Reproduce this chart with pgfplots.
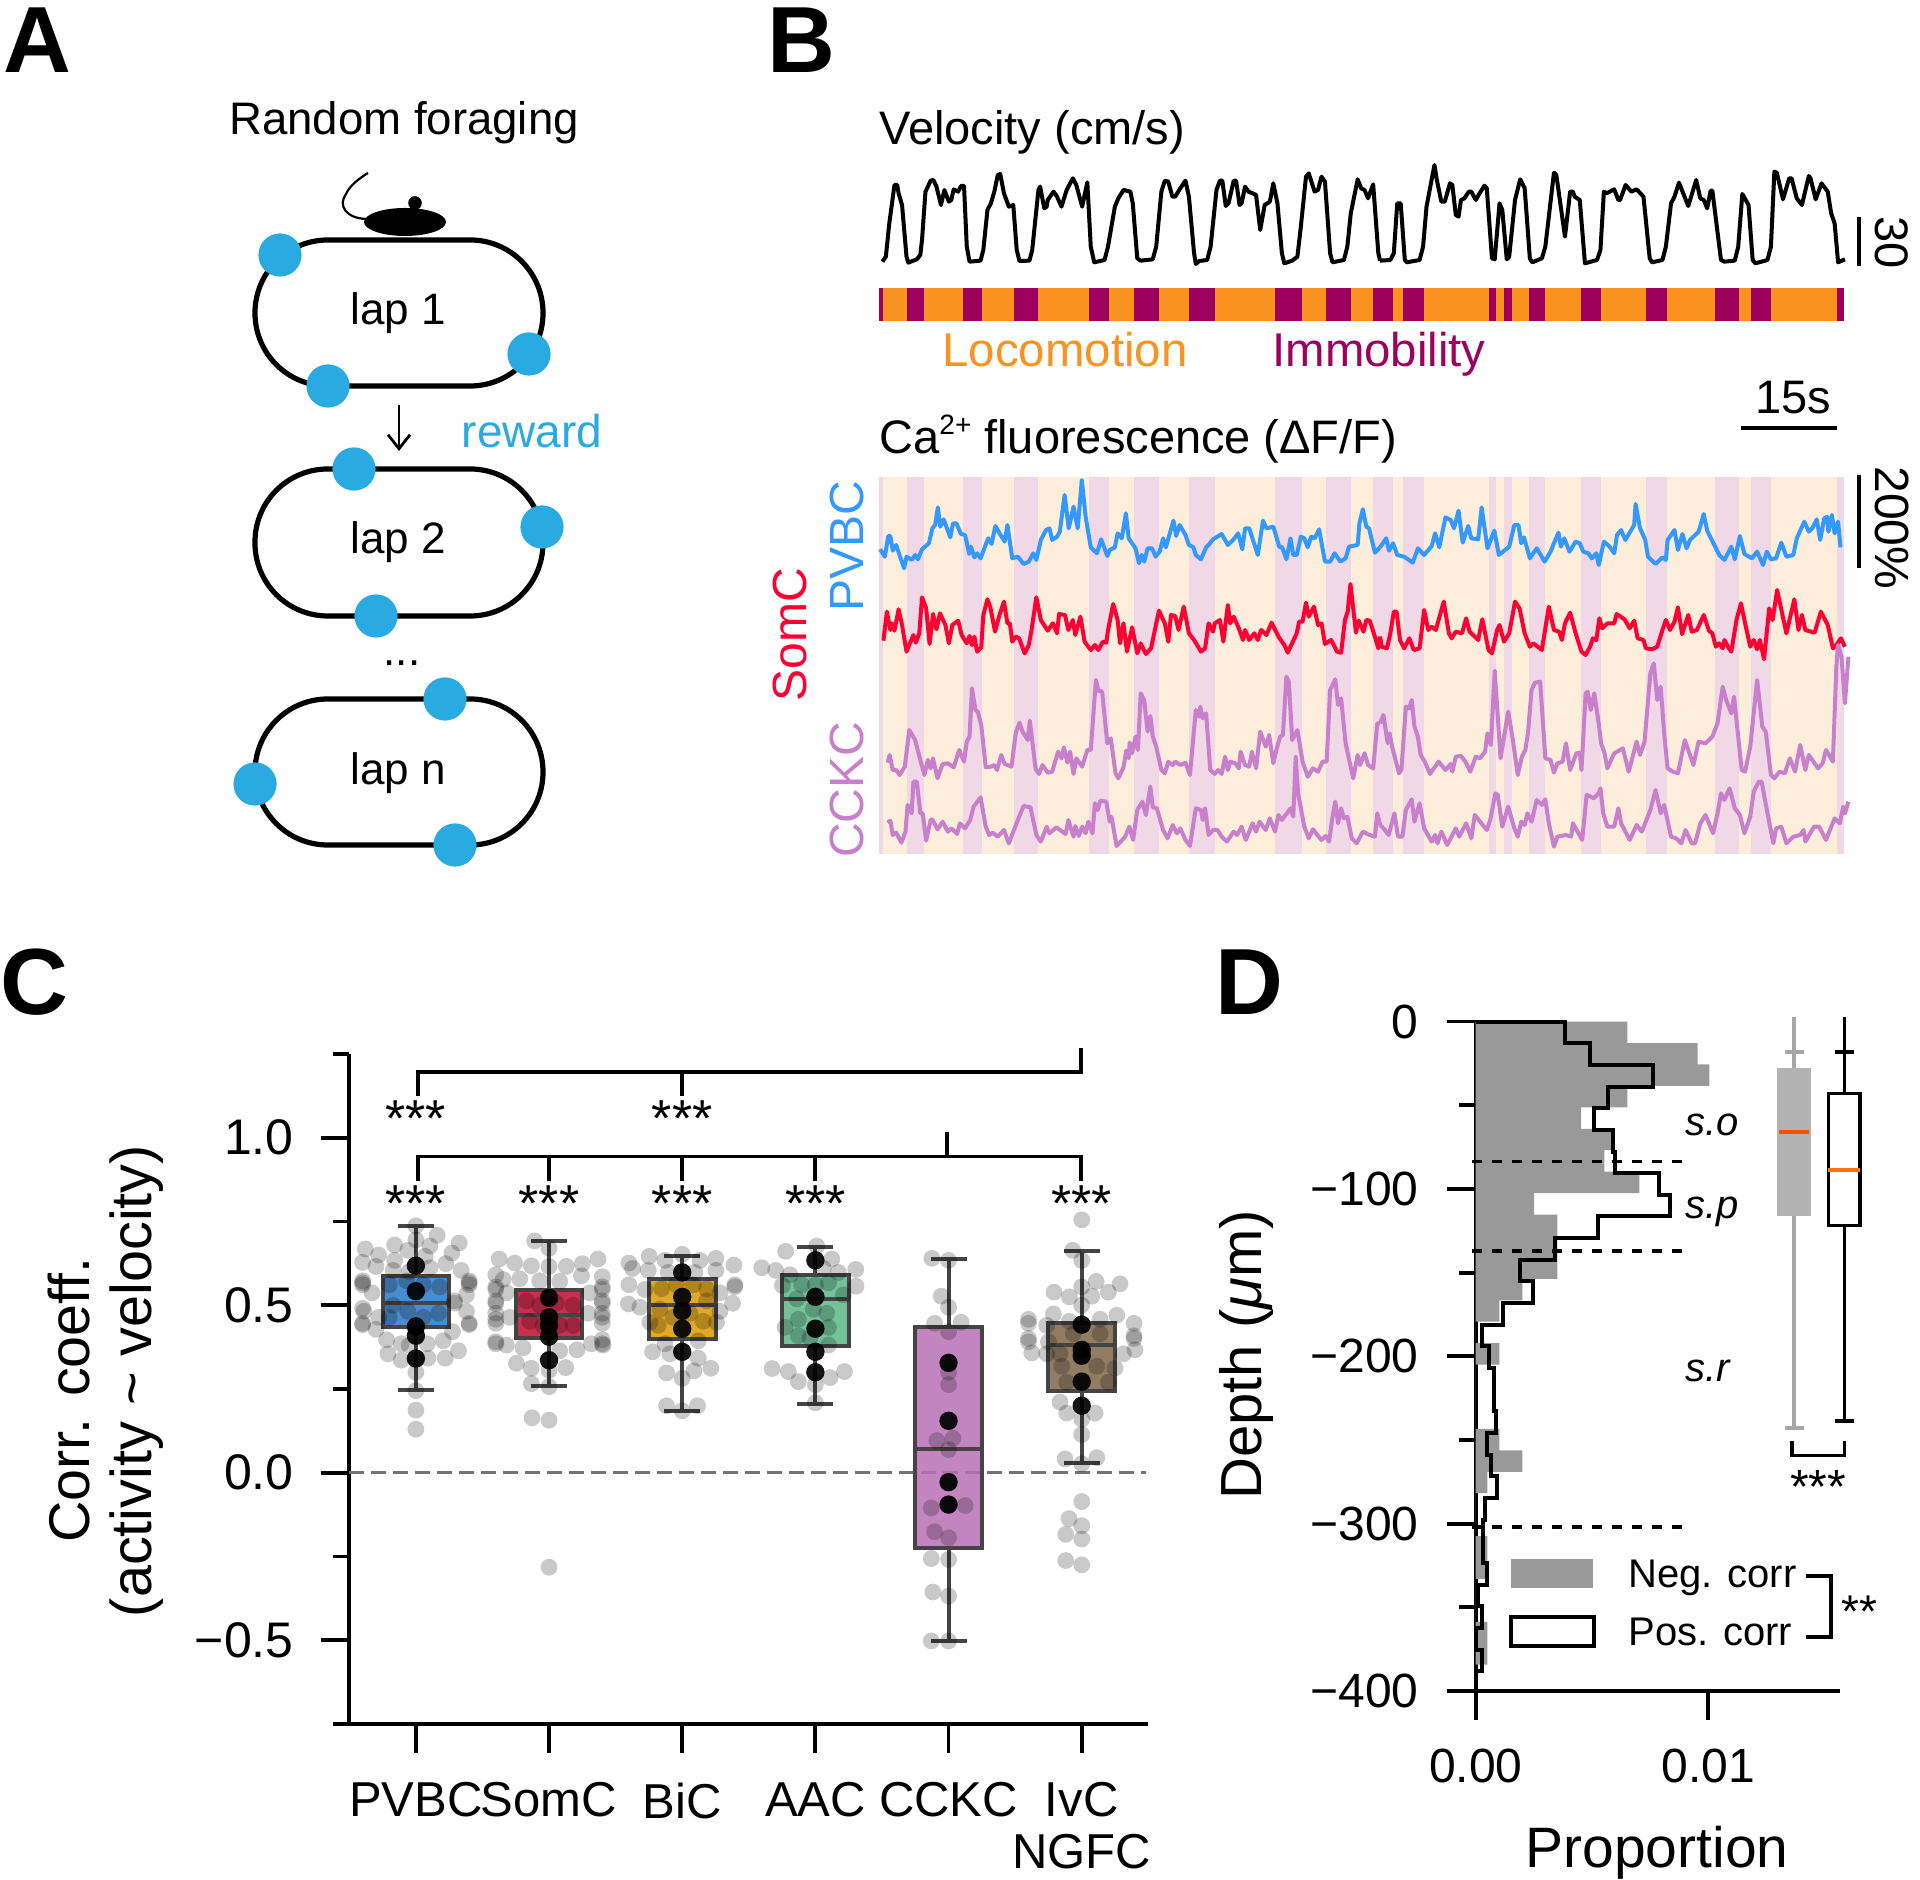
\documentclass[border=0pt]{standalone}
\usepackage{pgfplots}
\pgfplotsset{compat=1.18}
\usepgfplotslibrary{statistics}
\usetikzlibrary{arrows.meta}
\usepackage{fontspec}
\setmainfont{Liberation Sans}
\newfontfamily\lib{Liberation Sans}
\newcommand{\fs}[1]{\fontsize{#1}{#1}\selectfont}
\definecolor{orB}{HTML}{F9921F}
\definecolor{puB}{HTML}{9E005D}
\definecolor{orL}{HTML}{FDEEDB}
\definecolor{puL}{HTML}{F0D8E6}
\definecolor{trB}{HTML}{3399FF}
\definecolor{trR}{HTML}{FF0033}
\definecolor{trP}{HTML}{C880CC}
\definecolor{rew}{HTML}{29ABE2}
\definecolor{edge}{HTML}{444444}
\definecolor{bxA}{HTML}{2B78C5}
\definecolor{bxB}{HTML}{C00A30}
\definecolor{bxC}{HTML}{DB9A00}
\definecolor{bxD}{HTML}{5AB788}
\definecolor{bxE}{HTML}{B870B5}
\definecolor{bxF}{HTML}{7F6648}
\definecolor{gHist}{HTML}{999999}
\definecolor{gBox}{HTML}{B3B3B3}
\definecolor{gWh}{HTML}{A6A6A6}
\pgfplotsset{
 v1/.style={x filter/.expression={x/2.9037+860},y filter/.expression={y/3+150}},
 v2/.style={x filter/.expression={x/2.9037+1380},y filter/.expression={y/3+150}},
 t1/.style={x filter/.expression={x/2.9037+860},y filter/.expression={y/3+460}},
 t2/.style={x filter/.expression={x/2.9037+1380},y filter/.expression={y/3+460}},
 grey dots/.style={only marks,mark=*,mark size=4.2pt,mark options={draw opacity=0,fill=black,fill opacity=.21}},
 black dots/.style={only marks,mark=*,mark size=4.6pt,mark options={draw opacity=0,fill=black,fill opacity=.92}},
 cbox/.style={line width=2pt,draw=edge,boxplot/draw direction=y,boxplot/box extend=.5,boxplot/whisker extend=.27,boxplot/every box/.style={fill=#1,fill opacity=.85}},
}
\newcommand{\R}[5]{\addplot[draw=none,fill=#5] coordinates {(#1,#3)(#2,#3)(#2,#4)(#1,#4)} --cycle;}
\newcommand{\Bands}[3]{%
 \R{878.9}{883.4}{#1}{#2}{#3}\R{906.8}{924.1}{#1}{#2}{#3}\R{963.3}{981.9}{#1}{#2}{#3}%
 \R{1013.9}{1038.4}{#1}{#2}{#3}\R{1088.7}{1109.3}{#1}{#2}{#3}\R{1133.8}{1158.9}{#1}{#2}{#3}%
 \R{1188.9}{1215.1}{#1}{#2}{#3}\R{1275}{1302.2}{#1}{#2}{#3}\R{1326}{1351.4}{#1}{#2}{#3}%
 \R{1372.5}{1393.1}{#1}{#2}{#3}\R{1403.4}{1424.4}{#1}{#2}{#3}\R{1488.5}{1496.4}{#1}{#2}{#3}%
 \R{1504}{1511.9}{#1}{#2}{#3}\R{1528.8}{1544.6}{#1}{#2}{#3}\R{1581.1}{1600.8}{#1}{#2}{#3}%
 \R{1645.5}{1666.9}{#1}{#2}{#3}\R{1715.1}{1738.5}{#1}{#2}{#3}\R{1750.9}{1770.9}{#1}{#2}{#3}%
 \R{1837}{1844.2}{#1}{#2}{#3}}
\begin{document}
\begin{tikzpicture}
\path[use as bounding box] (0,0) rectangle (960pt,939.5pt);
% ---------- panel B traces
\begin{axis}[at={(0pt,0pt)},anchor=south west,scale only axis,width=960pt,height=939.5pt,
 xmin=0,xmax=1920,ymin=0,ymax=1879,y dir=reverse,hide axis,clip=false]
\R{878.9}{1844.2}{288.3}{320.7}{orB}
\Bands{288.3}{320.7}{puB}
\R{878.9}{1844.2}{477.3}{854}{orL}
\Bands{477.3}{854}{puL}
\addplot[v1,black,line width=2pt,line join=round] coordinates {(65,335)(75,320)(85,220)(100,105)(108,105)(112,130)(122,165)(135,320)(140,338)(165,328)(175,315)(180,270)(190,125)(197,110)(205,92)(213,90)(222,110)(235,165)(245,120)(258,155)(265,150)(272,118)(285,125)(293,108)(302,108)(310,290)(318,335)(350,332)(358,300)(370,180)(380,160)(390,125)(400,75)(407,72)(418,130)(432,170)(445,165)(455,300)(463,333)(492,332)(500,300)(518,120)(523,110)(535,175)(542,170)(545,150)(562,125)(572,140)(585,170)(600,120)(618,85)(628,105)(645,170)(660,97)(670,290)(680,337)(710,330)(720,290)(740,170)(750,145)(765,120)(785,125)(792,160)(805,325)(815,332)(850,328)(860,290)(875,125)(885,92)(895,95)(907,140)(915,140)(930,115)(945,92)(955,140)(970,310)(975,342)(985,333)(1008,330)(1018,290)(1035,120)(1045,92)(1052,92)(1062,168)(1070,160)(1085,92)(1092,92)(1102,165)(1108,160)(1118,110)(1128,125)(1140,130)(1150,135)(1162,240)(1175,165)(1190,155)(1200,100)(1212,160)(1225,310)(1232,340)(1255,332)(1270,320)(1280,230)(1295,80)(1303,70)(1320,125)(1330,120)(1340,80)(1350,95)(1365,310)(1372,337)(1405,330)(1415,290)(1425,190)(1445,88)(1455,115)(1465,120)(1475,145)(1490,103)(1505,310)(1510,332)};
\addplot[v2,black,line width=2pt,line join=round] coordinates {(0,332)(30,330)(40,310)(50,160)(60,160)(72,330)(78,337)(115,330)(125,290)(135,170)(158,45)(165,90)(178,155)(188,155)(203,100)(210,105)(220,195)(228,200)(235,150)(245,145)(258,125)(265,125)(278,150)(288,132)(303,107)(310,115)(325,325)(333,328)(347,160)(355,180)(368,328)(375,320)(392,150)(407,88)(420,115)(435,325)(442,337)(470,325)(480,290)(505,68)(512,75)(537,260)(552,125)(560,125)(565,140)(580,150)(595,340)(630,330)(640,300)(650,125)(658,130)(680,118)(692,150)(697,150)(713,105)(730,125)(745,118)(765,140)(783,325)(790,337)(820,330)(830,290)(845,160)(855,140)(868,98)(895,168)(918,90)(930,145)(940,150)(950,175)(960,122)(965,122)(990,330)(1000,335)(1030,332)(1040,290)(1052,132)(1070,165)(1082,330)(1090,340)(1125,330)(1135,290)(1145,65)(1152,68)(1170,148)(1188,85)(1195,85)(1210,145)(1225,165)(1245,78)(1250,85)(1265,148)(1282,100)(1300,125)(1310,190)(1320,220)(1330,337)(1350,328)};
% PVBC
\addplot[t1,trB,line width=2pt,line join=round] coordinates {(58,268)(72,290)(82,228)(88,228)(95,272)(105,255)(118,295)(128,325)(135,290)(150,300)(160,285)(168,298)(180,268)(200,250)(210,205)(218,195)(226,142)(233,200)(243,178)(262,232)(270,190)(280,190)(293,222)(305,225)(317,282)(322,260)(332,292)(340,280)(350,295)(372,235)(382,252)(393,198)(408,225)(420,245)(428,195)(442,295)(458,290)(475,312)(490,305)(503,280)(512,300)(525,240)(540,210)(550,205)(558,240)(572,230)(580,215)(594,105)(606,205)(620,140)(632,205)(644,60)(655,170)(670,262)(688,280)(700,238)(718,288)(725,270)(740,262)(748,220)(760,235)(772,160)(780,235)(800,265)(810,310)(818,285)(825,305)(835,265)(848,265)(858,290)(870,275)(880,235)(888,262)(910,182)(918,228)(928,195)(945,225)(955,255)(968,262)(975,285)(990,298)(1005,262)(1012,255)(1025,238)(1050,222)(1068,255)(1085,238)(1098,220)(1110,268)(1118,205)(1130,205)(1155,285)(1170,182)(1180,205)(1200,200)(1218,262)(1225,260)(1238,298)(1250,235)(1258,285)(1268,285)(1280,230)(1290,235)(1300,262)(1310,230)(1320,235)(1333,208)(1350,305)(1365,305)(1378,280)(1395,305)(1410,295)(1420,260)(1445,255)(1450,190)(1460,148)(1470,200)(1478,205)(1495,278)(1510,262)};
\addplot[t2,trB,line width=2pt,line join=round] coordinates {(0,262)(18,235)(26,272)(38,250)(50,285)(70,290)(95,308)(110,265)(128,285)(150,258)(160,220)(172,262)(190,172)(205,180)(215,205)(228,152)(240,248)(256,198)(265,235)(285,238)(295,142)(312,265)(332,212)(345,285)(375,260)(390,195)(402,195)(410,250)(418,232)(435,295)(455,265)(478,305)(495,275)(505,250)(518,218)(525,260)(535,235)(550,275)(568,245)(580,250)(590,275)(605,280)(615,295)(628,280)(635,315)(650,245)(665,258)(680,280)(688,225)(700,210)(712,240)(738,195)(742,132)(755,205)(770,240)(778,290)(800,312)(820,292)(830,300)(835,240)(855,210)(865,270)(878,222)(890,265)(900,240)(925,215)(940,162)(950,212)(985,285)(1000,300)(1020,260)(1030,298)(1045,228)(1058,282)(1080,295)(1095,275)(1112,315)(1123,275)(1135,298)(1150,295)(1165,248)(1180,290)(1200,285)(1210,235)(1232,185)(1245,215)(1255,205)(1268,178)(1278,240)(1290,175)(1298,170)(1302,215)(1312,165)(1320,220)(1330,185)(1337,262)};
% SomC
\addplot[t1,trR,line width=2pt,line join=round] coordinates {(68,542)(78,455)(88,510)(92,490)(100,512)(112,448)(122,495)(135,575)(145,550)(155,525)(162,548)(172,520)(180,412)(192,445)(202,552)(212,462)(222,508)(232,460)(248,495)(258,550)(268,495)(285,482)(295,525)(310,550)(318,528)(325,555)(332,530)(340,575)(352,562)(358,465)(370,418)(378,440)(392,515)(405,465)(418,425)(428,490)(435,490)(442,545)(452,530)(462,535)(478,580)(490,555)(498,510)(512,412)(525,480)(545,512)(560,490)(572,520)(578,462)(595,465)(605,510)(618,480)(625,525)(640,470)(652,545)(670,570)(682,555)(692,570)(705,545)(715,548)(720,512)(735,432)(748,480)(755,550)(765,490)(775,575)(790,502)(805,580)(815,550)(830,582)(845,565)(868,452)(885,490)(895,545)(903,465)(915,468)(925,510)(940,440)(955,520)(970,540)(990,575)(1002,565)(1012,490)(1025,515)(1030,490)(1045,480)(1055,545)(1068,435)(1075,490)(1085,470)(1100,505)(1112,540)(1118,510)(1130,540)(1145,520)(1155,540)(1165,510)(1180,525)(1195,488)(1215,530)(1232,555)(1242,578)(1268,520)(1275,485)(1285,485)(1295,428)(1303,470)(1318,440)(1330,495)(1340,490)(1350,552)(1368,540)(1385,575)(1397,578)(1408,480)(1416,455)(1424,372)(1440,518)(1448,482)(1462,515)(1470,480)(1480,482)(1495,530)(1505,565)(1510,530)};
\addplot[t2,trR,line width=2pt,line join=round] coordinates {(0,530)(5,560)(20,565)(30,520)(40,455)(48,455)(58,540)(70,565)(85,535)(98,570)(115,565)(128,450)(140,510)(150,500)(162,510)(185,425)(200,520)(208,535)(220,515)(238,520)(250,475)(260,515)(285,540)(297,478)(315,570)(325,580)(340,510)(347,495)(360,545)(375,520)(392,425)(405,445)(420,520)(435,560)(445,550)(470,570)(490,440)(505,510)(520,515)(528,540)(537,490)(552,458)(568,520)(585,575)(597,585)(610,560)(618,535)(628,540)(637,475)(645,505)(660,490)(680,490)(687,462)(710,478)(725,505)(738,482)(748,535)(765,540)(772,565)(790,568)(805,560)(820,510)(830,480)(842,510)(855,485)(865,442)(877,522)(895,465)(905,515)(920,510)(940,465)(955,512)(965,520)(975,560)(985,550)(995,565)(1000,540)(1010,560)(1020,575)(1035,480)(1048,430)(1060,490)(1075,560)(1085,540)(1095,568)(1103,540)(1115,598)(1130,445)(1140,480)(1153,390)(1180,520)(1203,418)(1215,510)(1225,465)(1235,510)(1262,518)(1280,455)(1300,495)(1315,565)(1325,555)(1338,535)(1350,560)};
% CCKC upper
\addplot[t1,trP,line width=2pt,line join=round] coordinates {(80,908)(86,885)(95,930)(105,930)(115,945)(130,920)(143,810)(160,840)(175,900)(187,945)(197,900)(205,925)(212,895)(225,955)(240,912)(255,910)(272,922)(288,870)(302,905)(310,845)(318,830)(325,685)(335,750)(342,755)(352,795)(365,922)(380,920)(390,915)(398,930)(410,885)(420,912)(440,920)(452,820)(463,788)(472,815)(487,840)(493,782)(510,928)(520,942)(530,915)(545,938)(558,935)(575,875)(585,895)(592,862)(602,908)(610,875)(620,942)(628,895)(645,920)(660,870)(670,870)(685,660)(692,692)(703,695)(718,850)(728,835)(742,940)(750,955)(765,922)(773,872)(780,895)(783,848)(790,880)(800,830)(807,870)(815,700)(825,720)(835,815)(843,768)(850,830)(860,860)(875,930)(885,940)(895,905)(908,915)(915,905)(930,915)(945,908)(958,945)(975,750)(985,770)(988,740)(995,775)(1005,760)(1017,930)(1030,942)(1040,930)(1050,942)(1060,890)(1068,930)(1075,905)(1090,910)(1100,925)(1105,875)(1118,915)(1130,920)(1138,875)(1150,925)(1162,815)(1178,860)(1188,825)(1200,910)(1210,865)(1220,830)(1228,825)(1238,650)(1245,665)(1255,840)(1270,810)(1285,905)(1300,950)(1315,925)(1330,935)(1343,905)(1355,905)(1365,690)(1380,658)(1388,735)(1397,715)(1410,850)(1432,955)(1445,885)(1452,915)(1465,880)(1475,915)(1490,925)(1502,790)(1510,790)};
\addplot[t2,trP,line width=2pt,line join=round] coordinates {(0,790)(10,765)(22,850)(28,820)(35,860)(45,900)(55,940)(62,930)(75,740)(85,745)(92,720)(100,800)(110,830)(118,885)(130,905)(145,942)(170,905)(190,930)(205,912)(210,935)(220,890)(235,888)(248,905)(262,935)(278,890)(290,895)(305,875)(312,820)(322,855)(333,632)(350,895)(372,755)(385,835)(400,945)(412,890)(422,870)(430,815)(440,690)(450,668)(465,665)(480,895)(495,900)(505,938)(515,910)(530,905)(540,850)(552,930)(570,880)(580,878)(585,930)(597,700)(603,695)(612,750)(622,700)(635,790)(642,850)(652,880)(660,925)(680,880)(705,865)(722,935)(745,845)(755,885)(768,845)(785,640)(795,610)(805,720)(815,680)(825,820)(835,925)(850,935)(865,940)(885,840)(910,915)(925,845)(945,850)(965,830)(980,790)(995,680)(1005,720)(1020,760)(1028,710)(1050,930)(1060,935)(1075,860)(1095,660)(1110,800)(1120,815)(1135,945)(1145,955)(1160,935)(1175,940)(1190,895)(1205,935)(1220,855)(1235,930)(1245,885)(1272,925)(1285,910)(1295,870)(1315,905)(1325,620)(1330,555)(1340,590)(1350,730)(1360,590)};
% CCKC lower
\addplot[t1,trP,line width=2pt,line join=round] coordinates {(80,1088)(88,1082)(95,1125)(105,1118)(120,1148)(132,1115)(138,1035)(150,1060)(155,965)(165,965)(175,1060)(182,1060)(192,1142)(205,1080)(210,1078)(225,1108)(240,1085)(255,1115)(265,1105)(282,1122)(290,1090)(305,1105)(320,1080)(330,1040)(350,1012)(365,1100)(375,1125)(385,1118)(400,1130)(418,1110)(432,1150)(462,1070)(475,1038)(495,1042)(512,1125)(525,1145)(542,1100)(550,1120)(570,1102)(597,1122)(605,1080)(620,1130)(625,1098)(635,1128)(645,1100)(655,1120)(663,1085)(675,1120)(682,1030)(690,1050)(698,1022)(715,1025)(725,1085)(730,1070)(745,1158)(770,1130)(782,1100)(793,1140)(805,1050)(820,1025)(830,1065)(843,980)(850,1042)(862,1045)(880,1110)(893,1135)(908,1095)(920,1120)(930,1105)(945,1140)(958,1158)(975,1045)(990,1050)(995,1080)(1002,1045)(1012,1125)(1025,1110)(1038,1110)(1050,1130)(1065,1145)(1085,1115)(1095,1125)(1108,1100)(1120,1140)(1140,1090)(1150,1115)(1160,1085)(1178,1110)(1190,1075)(1205,1115)(1215,1065)(1225,1080)(1250,1045)(1258,1070)(1265,890)(1272,1000)(1290,1100)(1303,1135)(1315,1108)(1340,1140)(1352,1128)(1362,1145)(1372,1070)(1380,1025)(1388,1090)(1397,1045)(1405,1075)(1415,1070)(1428,1135)(1442,1150)(1460,1115)(1480,1125)(1495,1130)(1502,1060)(1510,1095)};
\addplot[t2,trP,line width=2pt,line join=round] coordinates {(0,1095)(10,1105)(25,1125)(42,1060)(52,1130)(65,1130)(75,1050)(92,1018)(100,1085)(115,1030)(128,1105)(150,1145)(160,1125)(167,1150)(178,1115)(195,1155)(220,1105)(230,1130)(250,1090)(265,1135)(275,1065)(310,1110)(320,1080)(335,1000)(342,1005)(355,1100)(372,1040)(390,1105)(400,1130)(410,1085)(420,1095)(428,1060)(440,1085)(455,1020)(470,1035)(480,1018)(490,1090)(505,1160)(515,1130)(540,1125)(555,1130)(560,1090)(587,1140)(600,1005)(612,1010)(620,1015)(635,1000)(640,985)(648,1060)(660,1100)(680,1100)(692,1045)(700,1090)(725,1140)(745,1095)(760,1115)(785,1050)(800,990)(815,1060)(825,1035)(845,1130)(860,1135)(875,1150)(887,1110)(905,1150)(915,1150)(930,1090)(945,1065)(967,1120)(980,1060)(990,1000)(1000,1020)(1015,985)(1030,1045)(1045,1065)(1058,1120)(1075,1070)(1085,995)(1100,965)(1108,965)(1125,1060)(1142,1150)(1150,1105)(1165,1100)(1180,1150)(1200,1130)(1220,1125)(1230,1110)(1235,1145)(1260,1100)(1275,1100)(1295,1140)(1320,1075)(1335,1090)(1345,1040)(1350,1060)(1360,1025)};
\end{axis}
% ---------- panel C
\begin{axis}[at={(174.65pt,77.5pt)},anchor=south west,scale only axis,width=399.5pt,height=335pt,
 xmin=-0.5,xmax=5.5,ymin=-0.75,ymax=1.25,clip=false,
 axis x line*=bottom,axis y line*=left,axis line style={-,line width=1.9pt},
 tick align=outside,tick style={black,line width=1.9pt},
 major tick length=14.3pt,minor tick length=8.3pt,
 xtick={0,1,2,3,4,5},xticklabels={PVBC,SomC,BiC,AAC,CCKC,{IvC\\NGFC}},
 ytick={-0.5,0,0.5,1},yticklabels={−0.5,0.0,0.5,1.0},minor ytick={-0.75,-0.25,0.25,0.75,1.25},
 xticklabel style={font=\fontsize{24.5}{26}\selectfont,align=center,yshift=-11.5pt},
 yticklabel style={font=\fs{25},xshift=-10pt}]
\addplot[dash pattern=on 7.5pt off 3.5pt,line width=1.6pt,color=black!55] coordinates {(-0.5,0)(5.48,0)};
\addplot[grey dots] coordinates {(0,.737)(.16,.709)(0,.695)(.325,.686)(-.16,.68)(-.38,.668)(.105,.677)(.27,.656)(-.06,.664)(-.28,.65)(.07,.646)(-.16,.634)(-.40,.628)(.225,.624)(-.30,.616)(-.17,.604)(.34,.604)(.105,.612)(-.05,.60)(-.40,.573)(-.40,.567)(-.40,.561)(.40,.573)(.40,.567)(.40,.561)(-.33,.537)(.38,.531)(.29,.506)(-.40,.491)(-.39,.482)(.38,.482)(-.40,.446)(-.40,.442)(.40,.446)(.40,.442)(-.30,.428)(.275,.421)(-.22,.397)(.205,.394)(-.11,.385)(.085,.385)(-.21,.355)(.32,.364)(-.11,.336)(.09,.342)(.22,.342)(0,.245)(0,.187)(0,.13)(-.20,.561)(-.07,.573)(.055,.561)(.18,.555)(-.17,.50)(-.06,.482)(.055,.464)(.17,.476)(-.20,.464)(-.28,.464)(.29,.513)(0,.43)(-.05,.38)(0,.34)(0,.30)};
\addplot[grey dots,x filter/.expression={x+1}] coordinates {(-.108,.692)(0,.67)(-.375,.638)(-.258,.626)(.368,.638)(.25,.624)(-.133,.618)(.13,.616)(-.40,.591)(-.22,.579)(.243,.588)(.40,.585)(0,.616)(-.345,.577)(-.07,.573)(.08,.571)(-.40,.555)(-.40,.547)(.40,.555)(.40,.547)(-.40,.513)(-.40,.506)(.40,.513)(.40,.506)(-.40,.476)(-.40,.458)(-.40,.446)(.40,.476)(.40,.464)(.40,.446)(-.40,.391)(-.40,.385)(.40,.397)(.40,.385)(.405,.381)(-.32,.381)(.318,.385)(-.195,.373)(.21,.367)(.08,.364)(-.245,.327)(-.133,.312)(.125,.314)(0,.306)(-.133,.266)(0,.257)(-.128,.164)(0,.157)(0,-.282)(-.17,.513)(-.07,.50)(.055,.506)(.18,.50)(-.145,.452)(-.045,.44)(.08,.44)(.18,.44)(.293,.476)(-.295,.464)(-.32,.537)(.305,.537)};
\addplot[grey dots,x filter/.expression={x+2}] coordinates {(-.248,.646)(.253,.64)(-.40,.626)(.388,.62)(.133,.634)(-.13,.634)(-.373,.61)(-.255,.604)(.253,.604)(.395,.555)(-.40,.561)(-.28,.547)(.283,.537)(-.405,.504)(-.318,.494)(.378,.506)(0,.652)(.095,.598)(-.105,.598)(.395,.561)(-.243,.449)(.258,.449)(-.13,.385)(.12,.394)(-.223,.361)(-.093,.355)(.12,.342)(.215,.312)(-.118,.298)(.088,.304)(0,.282)(-.118,.20)(.115,.20)(0,.185)(-.155,.549)(-.043,.561)(.083,.561)(.183,.549)(-.168,.488)(-.068,.464)(.058,.476)(.158,.452)(-.18,.44)(.183,.513)(.283,.482)};
\addplot[grey dots,x filter/.expression={x+3}] coordinates {(-.223,.661)(.01,.677)(.123,.638)(.303,.607)(.305,.557)(.173,.598)(.06,.61)(-.19,.591)(-.103,.561)(.21,.531)(.098,.567)(-.14,.519)(.085,.476)(-.128,.458)(-.228,.434)(.098,.434)(-.128,.409)(.098,.381)(-.203,.302)(-.128,.272)(0,.263)(.11,.284)(.218,.302)(0,.209)(-.403,.612)(-.298,.604)(-.248,.559)(-.325,.311)(0,.561)(-.015,.488)(-.04,.403)};
\addplot[grey dots,x filter/.expression={x+4}] coordinates {(-.125,.64)(0,.634)(-.055,.527)(0,.494)(-.105,.446)(.095,.449)(0,.421)(0,.33)(0,.30)(0,.263)(-.088,.096)(.033,.103)(0,.069)(0,-.028)(-.13,-.105)(.125,-.098)(0,-.095)(-.105,-.176)(0,-.194)(-.13,-.256)(0,-.259)(-.118,-.356)(0,-.368)(-.13,-.502)(0,-.502)};
\addplot[grey dots,x filter/.expression={x+5}] coordinates {(0,.755)(-.068,.664)(0,.634)(.288,.564)(.108,.571)(-.208,.539)(0,.555)(-.093,.525)(.20,.539)(.075,.527)(0,.50)(-.40,.458)(-.40,.446)(.393,.446)(-.213,.474)(.263,.47)(-.093,.452)(.138,.458)(-.40,.401)(-.40,.391)(.393,.409)(.393,.401)(-.263,.44)(-.375,.358)(.40,.367)(-.25,.391)(.313,.355)(-.263,.355)(.25,.312)(-.163,.355)(.138,.415)(-.063,.415)(-.15,.318)(.113,.318)(-.113,.27)(.20,.27)(-.163,.211)(-.113,.178)(.10,.178)(0,.16)(0,.114)(-.125,.041)(.113,.045)(0,.027)(0,-.086)(-.095,-.137)(0,-.158)(-.12,-.184)(0,-.198)(-.12,-.262)(0,-.275)};
\addplot[cbox=bxA,boxplot prepared={draw position=0,lower whisker=.248,lower quartile=.436,median=.506,upper quartile=.588,upper whisker=.736}] coordinates {};
\addplot[cbox=bxB,boxplot prepared={draw position=1,lower whisker=.26,lower quartile=.401,median=.47,upper quartile=.547,upper whisker=.691}] coordinates {};
\addplot[cbox=bxC,boxplot prepared={draw position=2,lower whisker=.185,lower quartile=.40,median=.50,upper quartile=.579,upper whisker=.646}] coordinates {};
\addplot[cbox=bxD,boxplot prepared={draw position=3,lower whisker=.206,lower quartile=.379,median=.519,upper quartile=.591,upper whisker=.675}] coordinates {};
\addplot[cbox=bxE,boxplot prepared={draw position=4,lower whisker=-.502,lower quartile=-.226,median=.072,upper quartile=.434,upper whisker=.639}] coordinates {};
\addplot[cbox=bxF,boxplot prepared={draw position=5,lower whisker=.029,lower quartile=.245,median=.381,upper quartile=.446,upper whisker=.662}] coordinates {};
\addplot[black dots] coordinates {(0,.618)(0,.542)(0,.437)(0,.409)(0,.341)(1,.522)(1,.464)(1,.44)(1,.406)(1,.336)(2,.598)(2,.525)(2,.483)(2,.43)(2,.361)(3,.634)(3,.525)(3,.43)(3,.361)(3,.30)(4,.328)(4,.155)(4,-.028)(4,-.095)(5,.442)(5,.367)(5,.349)(5,.272)(5,.20)};
% brackets
\addplot[black,line width=1.9pt] coordinates {(.018,1.126)(.018,1.196)(4.995,1.196)(4.995,1.268)};
\addplot[black,line width=1.9pt] coordinates {(2,1.196)(2,1.126)};
\addplot[black,line width=1.9pt] coordinates {(.018,.871)(.018,.944)(4.995,.944)(4.995,.871)};
\addplot[black,line width=1.9pt] coordinates {(1,.944)(1,.871)};
\addplot[black,line width=1.9pt] coordinates {(2,.944)(2,.871)};
\addplot[black,line width=1.9pt] coordinates {(3,.944)(3,.871)};
\addplot[black,line width=1.9pt] coordinates {(3.99,.944)(3.99,1.017)};
\node[font=\fs{26}] at (axis cs:0,1.057) {***};
\node[font=\fs{26}] at (axis cs:2,1.057) {***};
\node[font=\fs{26}] at (axis cs:0,.802) {***};
\node[font=\fs{26}] at (axis cs:1,.802) {***};
\node[font=\fs{26}] at (axis cs:2,.802) {***};
\node[font=\fs{26}] at (axis cs:3,.802) {***};
\node[font=\fs{26}] at (axis cs:5,.802) {***};
\end{axis}
% ---------- panel D
\begin{axis}[at={(737.85pt,94pt)},anchor=south west,scale only axis,width=182.15pt,height=334.7pt,
 xmin=0,xmax=0.01566,ymin=-400,ymax=0,clip=false,scaled ticks=false,
 axis x line*=bottom,axis y line*=left,axis line style={-,line width=1.9pt},
 tick align=outside,tick style={black,line width=1.9pt},
 major tick length=14.5pt,minor tick length=8.5pt,
 xtick={0,0.01},xticklabels={0.00,0.01},
 ytick={-400,-300,-200,-100,0},yticklabels={−400,−300,−200,−100,0},minor ytick={-350,-250,-150,-50},
 xticklabel style={font=\fs{24},yshift=-11pt},
 yticklabel style={font=\fs{24},xshift=-10.5pt}]
\addplot[draw=none,fill=gHist] coordinates {(0,0)(.00652,0)(.00652,-12.81)(.00954,-12.81)(.00954,-25.62)(.01004,-25.62)(.01004,-38.43)(.00652,-38.43)(.00652,-51.24)(.00453,-51.24)(.00453,-64.05)(.00582,-64.05)(.00582,-76.86)(.00553,-76.86)(.00553,-89.67)(.00703,-89.67)(.00703,-102.48)(.00251,-102.48)(.00251,-115.29)(.00351,-115.29)(.00351,-153.72)(.00201,-153.72)(.00201,-166.53)(.00102,-166.53)(.00102,-179.3)(0,-179.3)(0,-192.2)(.00102,-192.2)(.00102,-205)(0,-205)(0,-243.4)(.00102,-243.4)(.00102,-256.2)(.00201,-256.2)(.00201,-269)(.0005,-269)(.0005,-281.8)(0,-281.8)(0,-307.4)(.0005,-307.4)(.0005,-333)(0,-333)(0,-358.7)(.0005,-358.7)(.0005,-384.3)(0,-384.3)} --cycle;
\addplot[black,line width=2pt,line join=miter] coordinates {(0,0)(.00384,0)(.00384,-12.94)(.00491,-12.94)(.00491,-25.88)(.00764,-25.88)(.00764,-38.82)(.00567,-38.82)(.00567,-51.76)(.00509,-51.76)(.00509,-64.7)(.00592,-64.7)(.00592,-77.64)(.00599,-77.64)(.00599,-90.58)(.00789,-90.58)(.00789,-103.52)(.00835,-103.52)(.00835,-116.46)(.00527,-116.46)(.00527,-129.4)(.00341,-129.4)(.00341,-142.34)(.00191,-142.34)(.00191,-155.28)(.00248,-155.28)(.00248,-168.22)(.00119,-168.22)(.00119,-181.16)(.00026,-181.16)(.00026,-194.1)(.00059,-194.1)(.00059,-207.04)(.00079,-207.04)(.00079,-232.92)(.00087,-232.92)(.00087,-245.86)(.00047,-245.86)(.00047,-258.8)(.00064,-258.8)(.00064,-271.74)(.00093,-271.74)(.00093,-284.68)(.0004,-284.68)(.0004,-297.62)(.0003,-297.62)(.0003,-323.5)(.00047,-323.5)(.00047,-336.44)(.00011,-336.44)(.00011,-349.38)(.00026,-349.38)(.00026,-362.32)(0,-362.32)(0,-375.26)(.00026,-375.26)(.00026,-388.2)(0,-388.2)};
\addplot[black,line width=1.7pt,dash pattern=on 5pt off 5pt] coordinates {(-.00014,-83.7)(.00885,-83.7)};
\addplot[black,line width=1.7pt,dash pattern=on 5pt off 5pt] coordinates {(-.00014,-137)(.00885,-137)};
\addplot[black,line width=1.7pt,dash pattern=on 5pt off 5pt] coordinates {(-.00014,-302)(.00885,-302)};
\end{axis}
% inset boxes on the same depth scale; horizontal position in reference pixels
\begin{axis}[at={(737.85pt,94pt)},anchor=south west,scale only axis,width=182.15pt,height=334.7pt,
 xmin=1475.7,xmax=1840,ymin=-400,ymax=0,clip=false,hide axis]
\addplot[gWh,line width=1.8pt] coordinates {(1794,-18)(1794,2.5)};
\addplot[draw=gWh,line width=1.8pt,boxplot/draw direction=y,boxplot/box extend=30.3,boxplot/whisker extend=19,
 boxplot/every box/.style={fill=gBox,draw=gBox},boxplot/every median/.style={draw=orange!60!red,line width=1.8pt},
 boxplot prepared={draw position=1794,lower whisker=-243,lower quartile=-115.2,median=-65.9,upper quartile=-28.8,upper whisker=-18}] coordinates {};
\addplot[black,line width=1.8pt] coordinates {(1844.3,-18)(1844.3,2.5)};
\addplot[draw=black,line width=1.8pt,boxplot/draw direction=y,boxplot/box extend=31.7,boxplot/whisker extend=19,
 boxplot/every box/.style={fill=white},boxplot/every median/.style={draw=orange!90!red,line width=1.8pt},
 boxplot prepared={draw position=1844.3,lower whisker=-238.5,lower quartile=-121.8,median=-88.7,upper quartile=-42.9,upper whisker=-18}] coordinates {};
\addplot[black,line width=1.8pt] coordinates {(1791.7,-250.5)(1791.7,-259.3)(1844.3,-259.3)(1844.3,-250.5)};
\end{axis}
% ---------- schematic and text, in reference pixels
\begin{scope}[x=.5pt,y=-.5pt,yshift=939.5pt,lbl/.style={font=\lib\fs{23.5}}]
\node[font=\lib\bfseries\fs{47}] at (37,40) {A};
\node[font=\lib\bfseries\fs{47}] at (801,40) {B};
\node[font=\lib\bfseries\fs{47}] at (34,982) {C};
\node[font=\lib\bfseries\fs{47}] at (1249,982) {D};
% A
\node[font=\lib\fs{22.8}] at (404,123) {Random foraging};
\draw[line width=2.6pt,rounded corners=36.4pt] (255,240) rectangle (543,386);
\draw[line width=2.6pt,rounded corners=36.4pt] (255,469) rectangle (543,616);
\draw[line width=2.6pt,rounded corners=36.4pt] (255,699) rectangle (543,845);
\node[font=\lib\fs{22}] at (398,313) {lap 1};
\node[font=\lib\fs{22}] at (398,542) {lap 2};
\node[font=\lib\fs{22}] at (398,773) {lap n};
\foreach \x/\y in {280/255,328/386,529/354,354/469,542/527,376/616,445/699,255/784,455/845}
 \fill[rew] (\x,\y) circle[radius=10.8pt];
\fill[black] (405,222) ellipse[x radius=20.5pt,y radius=7pt];
\fill[black] (415,203) circle[radius=3.4pt];
\draw[line width=1.1pt] (366,219) .. controls (345,218) and (338,205) .. (346,194) .. controls (350,185) and (360,178) .. (368,173);
\draw[line width=1.4pt,-{Straight Barb[length=7pt,width=11pt]}] (399,405) -- (399,451);
\node[font=\lib\fs{23},text=rew] at (532,431) {reward};
\node[font=\lib\fs{22}] at (402,663) {...};
% B
\node[lbl,anchor=west,inner sep=0pt] at (879,132) {Velocity (cm/s)};
\node[font=\lib\fs{23.7},text=orB] at (1065,350) {Locomotion};
\node[font=\lib\fs{23.7},text=puB] at (1379,354) {Immobility};
\node[lbl] at (1793,398) {15s};
\draw[line width=1.9pt] (1741,428) -- (1837,428);
\node[lbl,anchor=west,inner sep=0pt] at (879,439) {Ca\raisebox{.42em}{\fs{14}2+} fluorescence (ΔF/F)};
\draw[line width=1.9pt] (1859,217) -- (1859,266);
\node[lbl,rotate=-90] at (1892,243) {30};
\draw[line width=1.9pt] (1859,475) -- (1859,568);
\node[font=\lib\fs{24},rotate=-90] at (1892,528) {200\%};
\node[font=\lib\fs{24},rotate=90,text=trB] at (847,546) {PVBC};
\node[font=\lib\fs{24},rotate=90,text=trR] at (790,635) {SomC};
\node[font=\lib\fs{24},rotate=90,text=trP] at (847,790) {CCKC};
% C labels
\node[font=\fs{28.7},rotate=90,anchor=base] at (89,1400) {Corr. coeff.};
\node[font=\fs{28.8},rotate=90,anchor=base] at (151,1381) {(activity \textasciitilde{} velocity)};
% D labels
\node[font=\fs{29},rotate=90,anchor=base] at (1261,1355) {Depth ({\itshape μ}m)};
\node[font=\fs{28.5},anchor=base] at (1657,1867) {Proportion};
\node[font=\lib\itshape\fs{20}] at (1712,1125) {s.o};
\node[font=\lib\itshape\fs{20}] at (1712,1212) {s.p};
\node[font=\lib\itshape\fs{20}] at (1708,1371) {s.r};
\node[font=\fs{24}] at (1818,1487) {***};
\fill[gHist] (1511,1559) rectangle (1593,1588);
\draw[line width=2pt] (1511,1617) rectangle (1594,1646);
\node[font=\fs{20},anchor=base west,inner sep=0pt] at (1628,1587) {Neg. corr};
\node[font=\fs{20},anchor=base west,inner sep=0pt] at (1628,1645) {Pos. corr};
\draw[line width=1.7pt] (1806,1576) -- (1831,1576) -- (1831,1637) -- (1806,1637);
\node[font=\fs{23}] at (1859,1612) {**};
\end{scope}
\end{tikzpicture}
\end{document}
